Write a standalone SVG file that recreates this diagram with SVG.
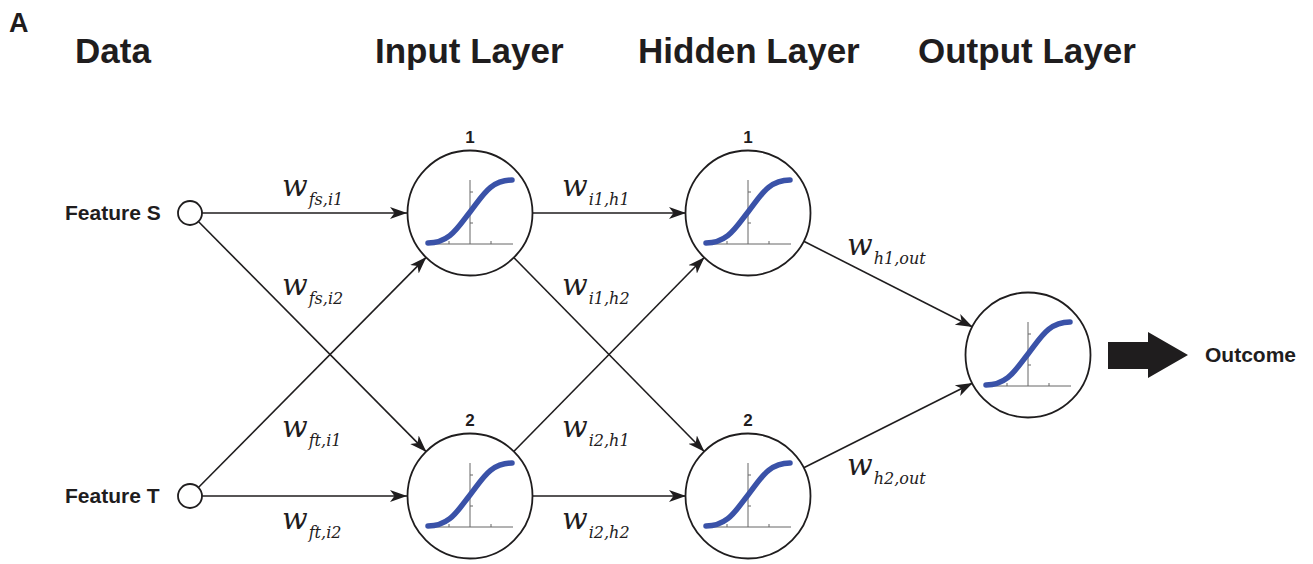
<svg xmlns="http://www.w3.org/2000/svg" width="1313" height="564" viewBox="0 0 1313 564">
<style>
.title{font-family:"Liberation Sans",Arial,sans-serif;font-weight:bold;font-size:35px;fill:#1f1d1e}
.lab{font-family:"Liberation Sans",Arial,sans-serif;font-weight:bold;font-size:21px;fill:#1f1d1e}
.num{font-family:"Liberation Sans",Arial,sans-serif;font-weight:bold;font-size:17px;fill:#1f1d1e;text-anchor:middle}
.w{font-family:"DejaVu Serif","Liberation Serif",serif;font-style:italic;font-size:30px;fill:#1f1d1e}
.sub{font-size:16px}
.node{fill:#fff;stroke:#1f1d1e;stroke-width:1.8}
.edge{stroke:#1f1d1e;stroke-width:1.6;fill:none;marker-end:url(#ah)}
.axis{stroke:#666;stroke-width:1;fill:none}
.curve{stroke:#3a52a8;stroke-width:5.5;fill:none;stroke-linecap:round}
</style>
<defs>
<marker id="ah" markerUnits="userSpaceOnUse" markerWidth="18" markerHeight="14" refX="17" refY="7" orient="auto">
<path d="M0,1 L17,7 L0,13 L4.5,7 z" fill="#1f1d1e"/>
</marker>
<g id="sig">
<path class="axis" d="M-42,31 H43 M0,-33 V31 M-21,31 v-3 M21,31 v-3 M0,-21 h3 M0,10 h3"/>
<path class="curve" d="M-42,30 C-20,30 -12,14 0,-1 S20,-33 42,-33"/>
</g>
</defs>

<text class="lab" x="9" y="32" style="font-size:27px">A</text>
<text class="title" x="75" y="63">Data</text>
<text class="title" x="375" y="63">Input Layer</text>
<text class="title" x="638" y="63">Hidden Layer</text>
<text class="title" x="918" y="63">Output Layer</text>

<g id="connectors">
<line class="edge" x1="202" y1="213" x2="407" y2="213"/>
<line class="edge" x1="198.4" y1="221.5" x2="426.4" y2="451.9"/>
<line class="edge" x1="198.4" y1="487.5" x2="426.4" y2="257.1"/>
<line class="edge" x1="202" y1="496" x2="407" y2="496"/>
<line class="edge" x1="532" y1="213" x2="686" y2="213"/>
<line class="edge" x1="513.5" y1="257.2" x2="704.5" y2="451.8"/>
<line class="edge" x1="513.5" y1="451.8" x2="704.5" y2="257.2"/>
<line class="edge" x1="532" y1="496" x2="686" y2="496"/>
<line class="edge" x1="803.3" y1="241" x2="972.7" y2="327"/>
<line class="edge" x1="803.3" y1="468" x2="972.7" y2="383"/>
</g>

<g id="labels">
<text class="w" x="282" y="196">w<tspan class="sub" dx="1" dy="9">fs,i1</tspan></text>
<text class="w" x="282" y="295">w<tspan class="sub" dx="1" dy="9">fs,i2</tspan></text>
<text class="w" x="282" y="437">w<tspan class="sub" dx="1" dy="9">ft,i1</tspan></text>
<text class="w" x="282" y="529">w<tspan class="sub" dx="1" dy="9">ft,i2</tspan></text>
<text class="w" x="562" y="196">w<tspan class="sub" dx="1" dy="9">i1,h1</tspan></text>
<text class="w" x="562" y="295">w<tspan class="sub" dx="1" dy="9">i1,h2</tspan></text>
<text class="w" x="562" y="437">w<tspan class="sub" dx="1" dy="9">i2,h1</tspan></text>
<text class="w" x="562" y="529">w<tspan class="sub" dx="1" dy="9">i2,h2</tspan></text>
<text class="w" x="847" y="255">w<tspan class="sub" dx="1" dy="9">h1,out</tspan></text>
<text class="w" x="847" y="475">w<tspan class="sub" dx="1" dy="9">h2,out</tspan></text>
</g>

<g id="featureS">
<text class="lab" x="65" y="220">Feature S</text>
<circle class="node" cx="190" cy="213" r="12"/>
</g>
<g id="featureT">
<text class="lab" x="65" y="503">Feature T</text>
<circle class="node" cx="190" cy="496" r="12"/>
</g>

<g id="input1">
<text class="num" x="470" y="143">1</text>
<circle class="node" cx="470" cy="213" r="62.5"/>
<use href="#sig" x="470" y="213"/>
</g>
<g id="input2">
<text class="num" x="470" y="426">2</text>
<circle class="node" cx="470" cy="496" r="62.5"/>
<use href="#sig" x="470" y="496"/>
</g>
<g id="hidden1">
<text class="num" x="748" y="143">1</text>
<circle class="node" cx="748" cy="213" r="62.5"/>
<use href="#sig" x="748" y="213"/>
</g>
<g id="hidden2">
<text class="num" x="748" y="426">2</text>
<circle class="node" cx="748" cy="496" r="62.5"/>
<use href="#sig" x="748" y="496"/>
</g>
<g id="output">
<circle class="node" cx="1028" cy="355" r="62.5"/>
<use href="#sig" x="1028" y="355"/>
</g>

<g id="outcome">
<polygon points="1108,342 1148,342 1148,332 1188,355 1148,378 1148,369 1108,369" fill="#1f1d1e"/>
<text class="lab" x="1205" y="362">Outcome</text>
</g>
</svg>
